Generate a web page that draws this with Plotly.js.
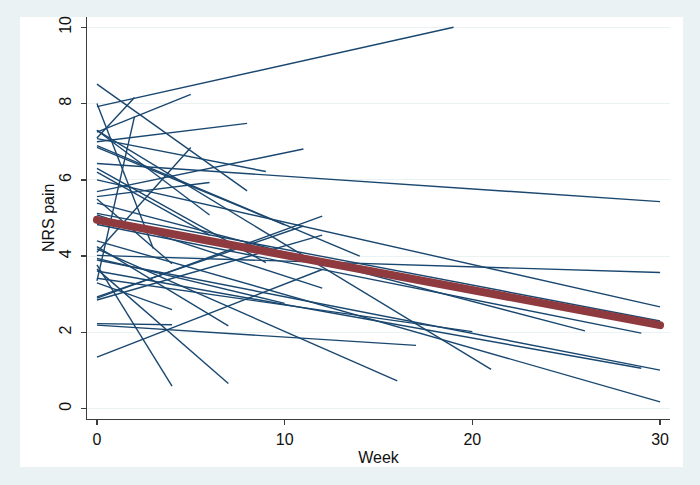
<!DOCTYPE html>
<html>
<head>
<meta charset="utf-8">
<script src="https://cdn.plot.ly/plotly-3.0.1.min.js"></script>
<style>
  html, body { margin: 0; padding: 0; background: #EAF2F3; }
  #chart { width: 700px; height: 485px; }
</style>
</head>
<body>
<div id="chart"></div>
<script>
// Individual subjects: baseline at week 0, last visit at endWeek
const startWeek = [0,0,0,0,0,0,0,0,0,0,0,0,0,0,0,0,0,0,0,0,0,0,0,0,0,0,0,0,0,0,0,0,0,0,0,0,0,0,0,0,0];
const endWeek   = [19, 8, 5, 2, 2, 3, 8, 9, 11, 6, 30, 5, 10, 14, 6, 9, 12, 10, 4, 17, 4, 7, 16, 12, 30, 30, 30, 29, 26, 30, 29, 30, 21, 20, 12, 11, 12, 7, 4, 6, 4];
const startNRS  = [7.92, 8.51, 7.25, 7.10, 3.35, 8.00, 7.00, 7.08, 5.69, 5.56, 6.43, 4.10, 6.85, 6.90, 7.30, 6.30, 5.08, 3.94, 2.23, 2.19, 3.77, 3.66, 4.19, 1.35, 4.02, 6.00, 5.12, 4.83, 5.39, 3.90, 3.61, 4.40, 7.30, 3.42, 2.90, 2.93, 2.85, 4.25, 3.30, 6.20, 5.50];
const endNRS    = [10.0, 5.71, 8.24, 8.16, 7.66, 4.20, 7.48, 6.22, 6.81, 5.93, 5.43, 6.85, 4.82, 4.00, 5.08, 3.83, 3.16, 2.76, 2.20, 1.66, 0.59, 0.66, 0.73, 3.65, 3.57, 2.67, 2.30, 1.98, 2.04, 1.01, 1.06, 0.18, 1.03, 2.02, 5.05, 4.79, 4.55, 2.17, 2.60, 4.55, 3.80];

// Mean trend
const fitWeek = [0, 5, 10, 15, 20, 25, 30];
const fitNRS  = [4.95, 4.49, 4.03, 3.57, 3.11, 2.65, 2.19];

const yTicks = [0, 2, 4, 6, 8, 10];
const xTicks = [0, 10, 20, 30];

const navy = '#1A476F';
const traces = [];
for (let i = 0; i < endWeek.length; i++) {
  traces.push({
    type: 'scatter', mode: 'lines',
    x: [startWeek[i], endWeek[i]],
    y: [startNRS[i], endNRS[i]],
    line: { color: navy, width: 1.4 },
    hoverinfo: 'skip', showlegend: false
  });
}
traces.push({
  type: 'scatter', mode: 'lines',
  x: fitWeek, y: fitNRS,
  line: { color: '#8F3A3F', width: 8 },
  hoverinfo: 'skip', showlegend: false
});

const axisColor = '#3c3c3c';
const layout = {
  width: 700, height: 485,
  paper_bgcolor: '#EAF2F3',
  plot_bgcolor: '#FFFFFF',
  margin: { l: 87, r: 30, t: 17, b: 66 },
  font: { family: 'Liberation Sans, Arial, sans-serif', size: 16, color: '#111' },
  shapes: [{
    type: 'rect', xref: 'paper', yref: 'paper', layer: 'below',
    x0: -67/583, x1: 1 + 13/583, y0: -48/402, y1: 1,
    fillcolor: '#FFFFFF', line: { width: 0 }
  }],
  annotations: [{
    text: 'NRS pain', xref: 'paper', yref: 'paper',
    x: -39/583, y: 0.5, xanchor: 'center', yanchor: 'middle',
    textangle: -90, showarrow: false, font: { size: 16, color: '#111' }
  }],
  xaxis: {
    range: [-0.53, 30.53],
    tickvals: xTicks, ticktext: xTicks.map(String),
    showgrid: false, zeroline: false,
    showline: true, linecolor: axisColor, linewidth: 1.3,
    ticks: 'outside', ticklen: 5, tickcolor: axisColor, tickwidth: 1.3,
    title: { text: 'Week', font: { size: 16 }, standoff: 5 },
    automargin: false
  },
  yaxis: {
    range: [-0.27, 10.27],
    tickvals: yTicks, ticktext: yTicks.map(String),
    tickangle: -90,
    ticklabelstandoff: 3,
    showgrid: true, gridcolor: '#EAF2F3', gridwidth: 1.2,
    zeroline: false,
    showline: true, linecolor: axisColor, linewidth: 1.3,
    ticks: 'outside', ticklen: 5, tickcolor: axisColor, tickwidth: 1.3,
    automargin: false
  }
};

Plotly.newPlot('chart', traces, layout, { displayModeBar: false, staticPlot: true }).then(function () {
  const lines = document.querySelectorAll('.scatterlayer .trace');
  const last = lines[lines.length - 1];
  if (last) {
    last.querySelectorAll('path').forEach(function (p) { p.style.strokeLinecap = 'round'; });
  }
});
</script>
</body>
</html>
